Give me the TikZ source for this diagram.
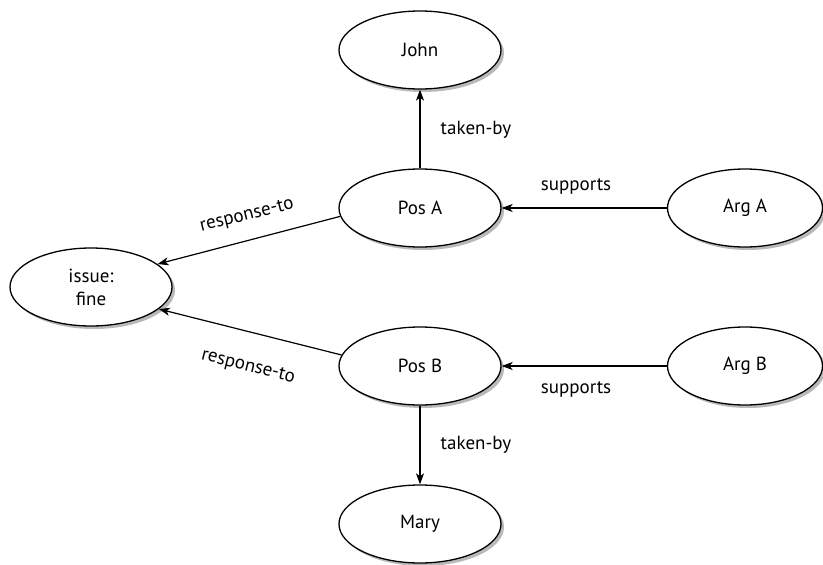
\documentclass[tikz,border=0pt]{standalone}
\usepackage{fontspec}
\setmainfont{PT Sans}
\usetikzlibrary{shapes.geometric,shadows,arrows.meta}
\begin{document}
\begin{tikzpicture}[x=1pt,y=-1pt,
  every node/.style={font=\fontsize{19}{23}\selectfont},
  bubble/.style={ellipse,draw,line width=1.3pt,fill=white,minimum width=162pt,minimum height=78pt,inner sep=0pt,align=center,
    drop shadow={shadow xshift=3pt,shadow yshift=-3pt,fill=gray!55,opacity=1}},
  argbubble/.style={bubble,minimum width=155pt},
  link/.style={line width=1.2pt,-{Stealth[length=11pt,width=8pt,inset=3pt]}},
  lbl/.style={inner sep=1pt}]
\useasboundingbox (0,0) rectangle (823,565);
\node[bubble] (john) at (420,50) {John};
\node[bubble] (posA) at (420,208) {Pos A};
\node[argbubble] (argA) at (745,208) {Arg A};
\node[bubble] (issue) at (91,287) {issue:\\fine};
\node[bubble] (posB) at (420,366) {Pos B};
\node[argbubble] (argB) at (745,366) {Arg B};
\node[bubble] (mary) at (420,524) {Mary};
\draw[link] (posA) -- (john);
\draw[link] (argA) -- (posA);
\draw[link] (posA.186.4) -- (issue.19);
\draw[link] (posB.172) -- (issue.-18.5);
\draw[link] (argB) -- (posB);
\draw[link] (posB) -- (mary);
\node[lbl] (l1) at (476,130) {taken-by};
\node[lbl] (l2) at (576,186) {supports};
\node[lbl,rotate=14] (l3) at (247,216) {response-to};
\node[lbl,rotate=-14] (l4) at (248,367) {response-to};
\node[lbl] (l5) at (576,389) {supports};
\node[lbl] (l6) at (476,445) {taken-by};
\end{tikzpicture}
\end{document}
